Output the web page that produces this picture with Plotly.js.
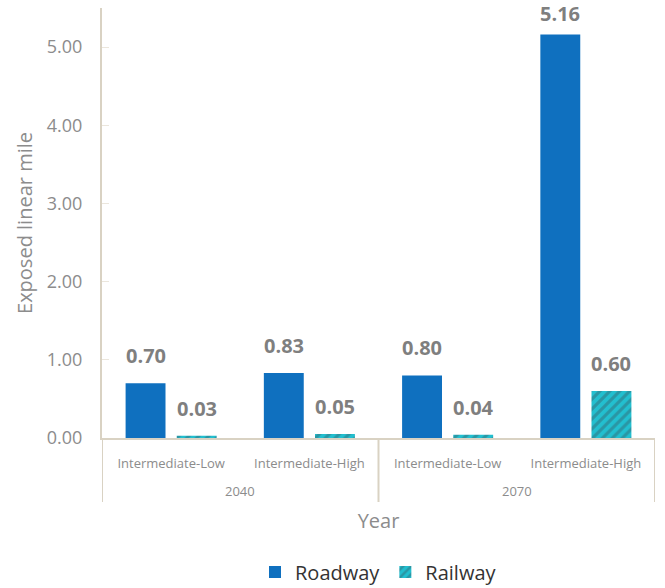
<!DOCTYPE html>
<html>
<head>
<meta charset="utf-8">
<script src="https://cdn.plot.ly/plotly-3.0.1.min.js"></script>
<style>
  html, body { margin: 0; padding: 0; background: #fff; }
  #chart { width: 665px; height: 588px; }
</style>
</head>
<body>
<div id="chart"></div>
<script>
// Exposed linear miles by year and sea-level scenario
const years = ["2040", "2040", "2070", "2070"];
const scenarios = ["Intermediate-Low", "Intermediate-High", "Intermediate-Low", "Intermediate-High"];
const roadway = [0.70, 0.83, 0.80, 5.16];
const railway = [0.03, 0.05, 0.04, 0.60];

const W = 665, H = 588;
const M = { l: 102, r: 10, t: 8, b: 150 };
const yMax = 5.5;
const plotH = H - M.t - M.b;

const labelFont = { family: "Open Sans, sans-serif", size: 20, color: "#7f7f7f", weight: "bold" };
const axisColor = "#d9d2c3";

// one slot per (year, scenario) pair, in order
const slots = scenarios.map((_, i) => i);

const traces = [
  {
    type: "bar",
    name: "Roadway",
    x: slots,
    y: roadway,
    marker: { color: "#0f70bf" }
  },
  {
    type: "bar",
    name: "Railway",
    x: slots,
    y: railway,
    marker: {
      color: "#22bfcf",
      pattern: { shape: "/", fgcolor: "#2a96a4", bgcolor: "#22bfcf", size: 7, solidity: 0.45 }
    }
  }
];

// value labels above each bar; pulled down a little when near the top edge
const annotations = [];
[[roadway, -25.5], [railway, 25.5]].forEach(([vals, dx]) => {
  vals.forEach((v, i) => {
    const headroom = M.t + plotH * (1 - v / yMax);
    annotations.push({
      x: slots[i], y: v, xref: "x", yref: "y",
      text: v.toFixed(2),
      showarrow: false,
      xanchor: "center", yanchor: "bottom",
      xshift: dx, yshift: Math.min(12, headroom - 29),
      font: labelFont
    });
  });
});

// outer (year) labels centred under their scenario pairs
const yearList = [...new Set(years)];
yearList.forEach(yr => {
  const idx = slots.filter(i => years[i] === yr);
  annotations.push({
    x: idx.reduce((a, b) => a + b, 0) / idx.length,
    xref: "x", yref: "paper",
    y: -53 / plotH, yanchor: "middle",
    text: yr, showarrow: false,
    font: { size: 13, color: "#8c8c8c" }
  });
});

// group dividers under the category axis
const edges = [-0.5];
yearList.forEach(yr => {
  const idx = slots.filter(i => years[i] === yr);
  edges.push(Math.max(...idx) + 0.5);
});
const shapes = edges.map(xv => ({
  type: "line", xref: "x", yref: "paper",
  x0: xv, x1: xv, y0: 0, y1: -64 / plotH,
  line: { color: axisColor, width: 2 }
}));

const layout = {
  width: W,
  height: H,
  margin: M,
  paper_bgcolor: "#ffffff",
  plot_bgcolor: "#ffffff",
  barmode: "group",
  bargap: 0.26,
  bargroupgap: 0.22,
  font: { family: "Open Sans, sans-serif", color: "#8c8c8c" },
  showlegend: true,
  legend: {
    orientation: "h",
    x: 0.5, xanchor: "center",
    yref: "container",
    y: 0.027, yanchor: "middle",
    font: { size: 20, color: "#333333" },
    traceorder: "normal"
  },
  annotations: annotations,
  shapes: shapes,
  xaxis: {
    type: "linear",
    range: [-0.5, slots.length - 0.5],
    tickvals: slots,
    ticktext: scenarios,
    showline: true,
    linecolor: axisColor,
    linewidth: 2,
    showgrid: false,
    zeroline: false,
    ticks: "",
    ticklabelstandoff: 12,
    tickfont: { size: 13, color: "#8c8c8c" },
    title: { text: "Year", font: { size: 20, color: "#8c8c8c" }, standoff: 43 }
  },
  yaxis: {
    range: [0, yMax],
    dtick: 1,
    tickformat: ".2f",
    showline: true,
    linecolor: axisColor,
    linewidth: 2,
    showgrid: false,
    zeroline: false,
    ticks: "inside",
    ticklen: 7,
    tickcolor: "#ebe6dc",
    ticklabelstandoff: 14,
    tickfont: { size: 18, color: "#8c8c8c" },
    title: { text: "Exposed linear mile", font: { size: 20, color: "#8c8c8c" }, standoff: 9 }
  }
};

Plotly.newPlot("chart", traces, layout, { displayModeBar: false, staticPlot: true });
</script>
</body>
</html>
